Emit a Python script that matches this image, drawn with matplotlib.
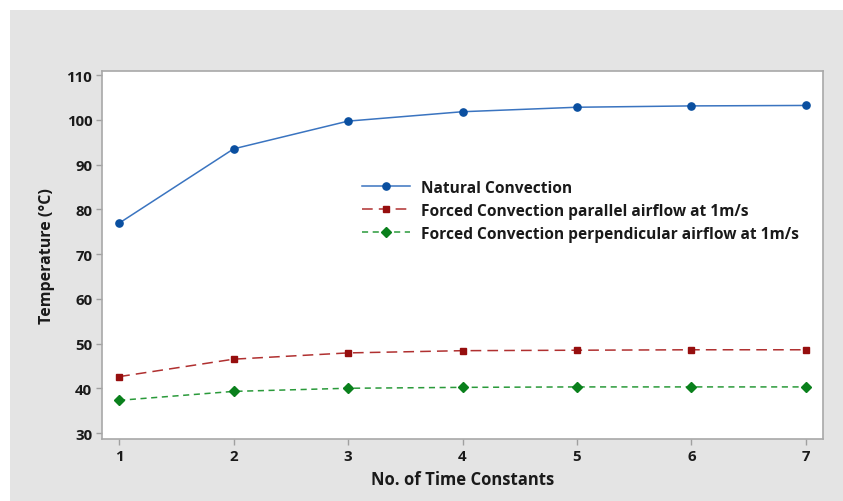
import matplotlib
matplotlib.use("Agg")
import matplotlib.pyplot as plt
from matplotlib.patches import Rectangle

plt.rcParams['font.family'] = ['Open Sans', 'DejaVu Sans']

time_constants = [1, 2, 3, 4, 5, 6, 7]
natural_conv = [76.9, 93.5, 99.7, 101.8, 102.8, 103.1, 103.2]
forced_parallel = [42.6, 46.5, 47.9, 48.4, 48.5, 48.6, 48.6]
forced_perpendicular = [37.3, 39.3, 40.0, 40.2, 40.3, 40.3, 40.3]

labels = ['Natural Convection',
          'Forced Convection parallel airflow at 1m/s',
          'Forced Convection perpendicular airflow at 1m/s']

fig = plt.figure(figsize=(8.43, 5.02), dpi=100)
fig.patch.set_facecolor('white')
# grey panel behind the axes
fig.patches.append(Rectangle((10 / 843, 0), 1, (502 - 11) / 502,
                             transform=fig.transFigure, facecolor='#e4e4e4',
                             edgecolor='none', zorder=-10))

ax = fig.add_axes([102 / 843, 1 - 440 / 502, (823 - 102) / 843, (440 - 72) / 502])
ax.set_zorder(1)
ax.set_facecolor('white')

ax.plot(time_constants, natural_conv, color='#3a74c0', lw=1.1,
        marker='o', ms=5.2, mfc='#0a4fa0', mec='#0a4fa0', label=labels[0])
ax.plot(time_constants, forced_parallel, color='#b03030', lw=1.1, dashes=(7, 4),
        marker='s', ms=5, mfc='#960e0e', mec='#960e0e', label=labels[1])
ax.plot(time_constants, forced_perpendicular, color='#2a9a3a', lw=1.1, dashes=(4, 3),
        marker='D', ms=4.6, mfc='#0a801c', mec='#0a801c', label=labels[2])

ax.set_xlim(0.85, 7.15)
ax.set_ylim(28.66, 110.9)
ax.set_xticks(time_constants)
ax.set_yticks(range(30, 111, 10))

for s in ax.spines.values():
    s.set_color('#a8a8a8')
    s.set_linewidth(1.2)
ax.tick_params(direction='out', length=4, width=1, color='#a0a0a0',
               labelsize=10.8, labelcolor='#1a1a1a', pad=3)
for t in ax.get_xticklabels() + ax.get_yticklabels():
    t.set_fontweight('bold')

ax.set_xlabel('No. of Time Constants', fontsize=12, fontweight='bold',
              color='#1a1a1a', labelpad=5)
ax.set_ylabel('Temperature (°C)', fontsize=11.5, fontweight='bold',
              color='#1a1a1a', labelpad=8)

leg = ax.legend(loc='upper left', bbox_to_anchor=(0.352, 0.722), frameon=False,
                fontsize=11.2, handlelength=3.1, handletextpad=0.7,
                labelspacing=0.45, borderaxespad=0)
for t in leg.get_texts():
    t.set_fontweight('bold')
    t.set_color('#1a1a1a')

fig.savefig('out.png', dpi=100, facecolor=fig.get_facecolor())
